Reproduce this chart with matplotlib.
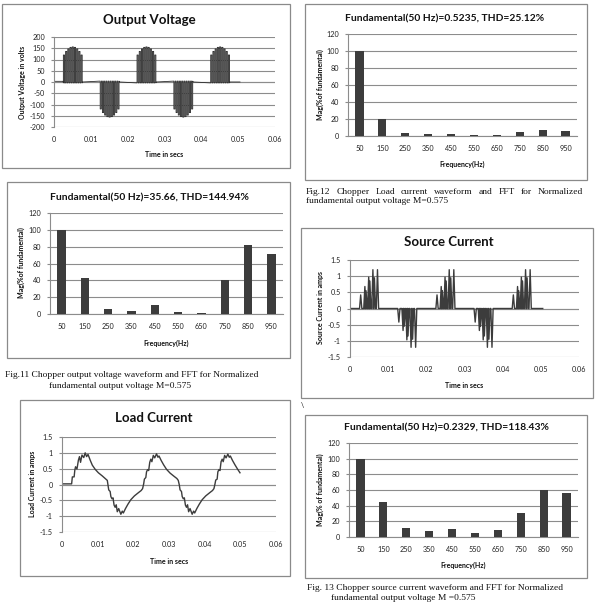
import numpy as np
import matplotlib
matplotlib.use("Agg")
import matplotlib.pyplot as plt
from matplotlib.patches import Rectangle

plt.rcParams['font.family'] = ['Lato', 'DejaVu Sans']

W, H = 600, 615

# FFT spectra (% of fundamental)
harmonics = ["50", "150", "250", "350", "450", "550", "650", "750", "850", "950"]
fft_load_current = [100, 20.5, 4, 2.8, 2.8, 1.6, 1.6, 4.8, 7, 6.3]
fft_output_voltage = [100, 43, 5.6, 4, 10.4, 2, 1.6, 40.2, 82.5, 71.7]
fft_source_current = [100, 45.3, 12, 8.1, 10.3, 4.7, 9, 30.3, 60.3, 55.6]

# half-cycle bursts: shift of each burst and its polarity
burst_shift = [0.0, 0.01, 0.02, 0.03, 0.04]
burst_sign = [1, -1, 1, -1, 1]

# output voltage pulses in one burst (time, volts)
volt_pulse_t = [0.0027, 0.0033, 0.0039, 0.0045, 0.0051, 0.0057, 0.0063, 0.0069, 0.0075]
volt_pulse_h = [120, 136, 147, 154, 156, 154, 147, 136, 120]

# source current spikes in one burst (time, amps)
src_spike_t = [0.0028, 0.0039, 0.0042, 0.0049, 0.0052, 0.0060, 0.0064, 0.0072]
src_spike_h = [0.42, 0.68, 0.55, 0.97, 0.85, 1.20, 0.95, 1.20]

# load current (time, amps)
load_t = [0.0, 0.0027, 0.0029, 0.0034, 0.0036, 0.0038, 0.0042, 0.0046, 0.0049, 0.0052,
          0.0056, 0.0061, 0.0065, 0.0069, 0.0073, 0.0079, 0.0085, 0.0093, 0.0102, 0.0113,
          0.0122, 0.0127,
          0.0129, 0.0131, 0.0135, 0.0137, 0.0140, 0.0143, 0.0146, 0.0149, 0.0152, 0.0155,
          0.0159, 0.0165, 0.0169, 0.0172, 0.0178, 0.0185, 0.0193, 0.0203, 0.0214, 0.0222,
          0.0226,
          0.0229, 0.0231, 0.0235, 0.0237, 0.0240, 0.0243, 0.0246, 0.0249, 0.0252, 0.0256,
          0.0260, 0.0265, 0.0269, 0.0272, 0.0278, 0.0285, 0.0293, 0.0303, 0.0314, 0.0322,
          0.0326,
          0.0329, 0.0331, 0.0335, 0.0337, 0.0340, 0.0343, 0.0346, 0.0349, 0.0352, 0.0355,
          0.0359, 0.0365, 0.0369, 0.0372, 0.0378, 0.0385, 0.0393, 0.0403, 0.0414, 0.0422,
          0.0426,
          0.0429, 0.0431, 0.0435, 0.0437, 0.0440, 0.0443, 0.0446, 0.0449, 0.0452, 0.0456,
          0.0460, 0.0465, 0.0469, 0.0472, 0.0478, 0.0485, 0.0492, 0.0499]
load_i = [0.02, 0.02, 0.24, 0.24, 0.46, 0.56, 0.49, 0.77, 0.88, 0.70,
          0.93, 0.85, 1.00, 0.88, 0.95, 0.77, 0.61, 0.48, 0.37, 0.27,
          0.18, 0.13,
          -0.02, -0.17, -0.22, -0.38, -0.45, -0.42, -0.65, -0.72, -0.64, -0.86,
          -0.76, -0.94, -0.84, -0.90, -0.76, -0.62, -0.48, -0.36, -0.26, -0.19,
          -0.13,
          0.02, 0.17, 0.22, 0.40, 0.47, 0.44, 0.70, 0.80, 0.72, 0.92,
          0.84, 0.97, 0.86, 0.90, 0.76, 0.62, 0.48, 0.36, 0.26, 0.19,
          0.13,
          -0.02, -0.17, -0.22, -0.38, -0.45, -0.42, -0.65, -0.72, -0.64, -0.86,
          -0.76, -0.94, -0.84, -0.90, -0.76, -0.62, -0.48, -0.36, -0.26, -0.19,
          -0.13,
          0.02, 0.14, 0.17, 0.40, 0.47, 0.44, 0.72, 0.80, 0.72, 0.92,
          0.84, 0.96, 0.86, 0.90, 0.76, 0.62, 0.49, 0.37]

GRID = '#8c8c8c'
BOX = '#8a8a8a'
INK = '#3c3c3c'

fig = plt.figure(figsize=(6, 6.15), dpi=100)


def add_box(l, t, r, b):
    fig.add_artist(Rectangle((l / W, 1 - b / H), (r - l) / W, (b - t) / H,
                             transform=fig.transFigure, fill=False, ec=BOX, lw=0.9))


def add_axes(l, t, r, b):
    ax = fig.add_axes([l / W, 1 - b / H, (r - l) / W, (b - t) / H])
    for s in ['top', 'right', 'bottom']:
        ax.spines[s].set_visible(False)
    ax.spines['left'].set_color(GRID)
    ax.spines['left'].set_linewidth(0.8)
    ax.set_axisbelow(True)
    ax.yaxis.grid(True, color=GRID, lw=0.8)
    ax.tick_params(axis='y', labelsize=5.2, length=2, color=GRID, pad=4.5, labelcolor='#222')
    ax.tick_params(axis='x', labelsize=5.2, length=0, pad=6.5, labelcolor='#222')
    return ax


def txt(x, y, s, size, bold=False, rot=0, **kw):
    fig.text(x / W, 1 - y / H, s, fontsize=size, ha='center', va='center',
             fontweight='bold' if bold else 'normal', rotation=rot, color='#111', **kw)


def time_axes(l, t, r, b, ylim, step, fmt):
    ax = add_axes(l, t, r, b)
    ax.set_xlim(0, 0.06)
    ax.set_ylim(*ylim)
    ax.set_xticks(np.arange(0, 0.061, 0.01))
    ax.set_xticklabels(["0", "0.01", "0.02", "0.03", "0.04", "0.05", "0.06"])
    ticks = np.arange(ylim[0], ylim[1] + step / 2, step)
    ax.set_yticks(ticks)
    ax.set_yticklabels([fmt(v) for v in ticks])
    ax.axhline(0, color=GRID, lw=0.8, zorder=0)
    return ax


def bar_axes(l, t, r, b, values):
    ax = add_axes(l, t, r, b)
    x = np.arange(len(harmonics))
    ax.bar(x, values, width=0.36, color=INK, zorder=3)
    ax.set_xlim(-0.5, len(harmonics) - 0.5)
    ax.set_ylim(0, 120)
    ax.set_yticks(range(0, 121, 20))
    ax.set_xticks(x)
    ax.set_xticklabels(harmonics)
    ax.spines['bottom'].set_visible(True)
    ax.spines['bottom'].set_color(GRID)
    ax.spines['bottom'].set_linewidth(0.8)
    return ax


def justify(text, x0, x1, y, size):
    words = text.split()
    arts = [fig.text(0, 1 - y / H, w, fontsize=size, family='Liberation Serif',
                     va='center', ha='left', color='#111') for w in words]
    r = fig.canvas.get_renderer()
    widths = [a.get_window_extent(r).width for a in arts]
    gap = ((x1 - x0) - sum(widths)) / (len(words) - 1)
    x = x0
    for a, w in zip(arts, widths):
        a.set_x(x / W)
        x += w + gap


def caption(x, y, s, size=6.8):
    fig.text(x / W, 1 - y / H, s, fontsize=size, family='Liberation Serif',
             va='center', ha='left', color='#111')


# ---- Output Voltage ----
add_box(2, 4, 290, 168)
ax = time_axes(54, 37, 275, 127, (-200, 200), 50, lambda v: f"{v:.0f}")
vt, vv = [0.0, 0.0025], [3, 3]
w = 0.00016
for shift, sign in zip(burst_shift, burst_sign):
    for t, h in zip(volt_pulse_t, volt_pulse_h):
        vt += [t + shift - w, t + shift - w, t + shift + w, t + shift + w]
        vv += [-4 * sign, h * sign, h * sign, -4 * sign]
        ax.fill_between([t + shift - w, t + shift + w], 0, h * sign,
                        color='#9a9a9a', lw=0, zorder=1)
    vt += [0.0078 + shift]
    vv += [0]
vt.append(0.0505)
vv.append(0)
ax.plot(vt, vv, color='#2e2e2e', lw=0.6, zorder=2)
txt(149, 20, "Output Voltage", 9.5, bold=True)
txt(164, 154, "Time in secs", 5, bold=True)
txt(23, 82, "Output Voltage in volts", 5, bold=True, rot=90)

# ---- FFT of load current ----
add_box(305, 4, 587, 180)
bar_axes(348, 34, 577, 136, fft_load_current)
txt(445, 19, "Fundamental(50 Hz)=0.5235, THD=25.12%", 7.4, bold=True)
txt(462, 164, "Frequency(Hz)", 5, bold=True)
txt(320, 85, "Mag(%of fundamental)", 5, bold=True, rot=90)
justify("Fig.12 Chopper Load current waveform and FFT for Normalized", 306, 583, 192, 6.8)
caption(306, 201, "fundamental output voltage M=0.575")

# ---- FFT of output voltage ----
add_box(7, 182, 290, 358)
bar_axes(50, 213, 283, 314, fft_output_voltage)
txt(149, 198, "Fundamental(50 Hz)=35.66, THD=144.94%", 7.4, bold=True)
txt(166, 343, "Frequency(Hz)", 5, bold=True)
txt(21, 263, "Mag(%of fundamental)", 5, bold=True, rot=90)
caption(5, 375, "Fig.11 Chopper output voltage waveform and FFT for Normalized")
caption(49, 386, "fundamental output voltage M=0.575")

# ---- Source Current ----
add_box(301, 228, 593, 398)
ax = time_axes(350, 260, 579, 357, (-1.5, 1.5), 0.5, lambda v: f"{v:g}")
st, sv = [0.0], [0.0]
w = 0.0003
for shift, sign in zip(burst_shift, burst_sign):
    for t, h in zip(src_spike_t, src_spike_h):
        st += [t + shift - w, t + shift, t + shift + w]
        sv += [0, h * sign, 0]
st.append(0.0505)
sv.append(0)
ax.plot(st, sv, color=INK, lw=1.0)
txt(449, 242, "Source Current", 9.5, bold=True)
txt(464, 386, "Time in secs", 5, bold=True)
txt(320, 308, "Source Current in amps", 5, bold=True, rot=90)
txt(302, 406, "\\", 5)

# ---- Load Current ----
add_box(20, 400, 290, 576)
ax = time_axes(62, 437, 276, 532, (-1.5, 1.5), 0.5, lambda v: f"{v:g}")
ax.plot(load_t, load_i, color=INK, lw=1.0)
txt(154, 418, "Load Current", 9.5, bold=True)
txt(169, 562, "Time in secs", 5, bold=True)
txt(33, 484, "Load Current in amps", 5, bold=True, rot=90)

# ---- FFT of source current ----
add_box(305, 415, 587, 578)
bar_axes(349, 443, 578, 537, fft_source_current)
txt(446, 428, "Fundamental(50 Hz)=0.2329, THD=118.43%", 7.4, bold=True)
txt(463, 565, "Frequency(Hz)", 5, bold=True)
txt(320, 490, "Mag(% of fundamental)", 5, bold=True, rot=90)
caption(307, 588, "Fig. 13 Chopper source current waveform and FFT for Normalized")
caption(331, 598, "fundamental output voltage M =0.575")

fig.savefig("out.png", dpi=100)
